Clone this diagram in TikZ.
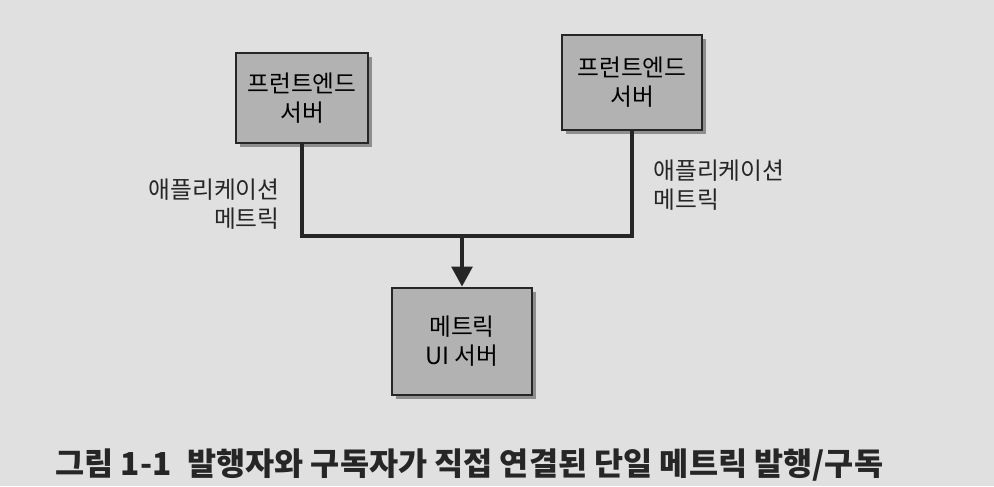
\documentclass[tikz,border=0pt]{standalone}
\usepackage{fontspec}
\setmainfont{Noto Sans CJK KR}
\usetikzlibrary{arrows.meta,shadows}

\begin{document}
\begin{tikzpicture}[font=\fontsize{13.5}{16.5}\selectfont,
  server/.style={draw=black!85,line width=1.7pt,fill=black!30,align=center,
    drop shadow={shadow xshift=2pt,shadow yshift=-2pt,opacity=.55,fill=black!70}},
  wire/.style={draw=black!85,line width=1.8pt},
  metric/.style={text=black!85,inner sep=0pt}]
\path[fill=black!12] (0,0) rectangle (19.88,9.72);
\node[server,minimum width=2.64cm,minimum height=1.8cm] (front1) at (6.04,7.76) {프런트엔드\\서버};
\node[server,minimum width=2.8cm,minimum height=1.9cm] (front2) at (12.64,8.07) {프런트엔드\\서버};
\node[server,minimum width=2.8cm,minimum height=2.14cm] (ui) at (9.24,2.89) {메트릭\\UI 서버};
\coordinate (join1) at (6.04,5.0);
\coordinate (join2) at (12.64,5.0);
\coordinate (mid) at (9.24,5.0);
\draw[wire,line cap=rect] (front1.south) -- (join1) -- (join2) -- (front2.south);
\draw[wire,-{Triangle[width=.42cm,length=.4cm]}] (mid) -- (ui.north);
\node[metric,anchor=east,align=right] (lblleft) at (5.6,5.64) {애플리케이션\\메트릭};
\node[metric,anchor=west,align=left] (lblright) at (13.06,6.02) {애플리케이션\\메트릭};
\node[anchor=west,text=black!85,inner sep=0pt,font=\fontsize{18}{21}\selectfont\bfseries] (caption) at (1.1,0.42) {그림 1-1\hspace{0.5em}발행자와 구독자가 직접 연결된 단일 메트릭 발행/구독};
\end{tikzpicture}
\end{document}
